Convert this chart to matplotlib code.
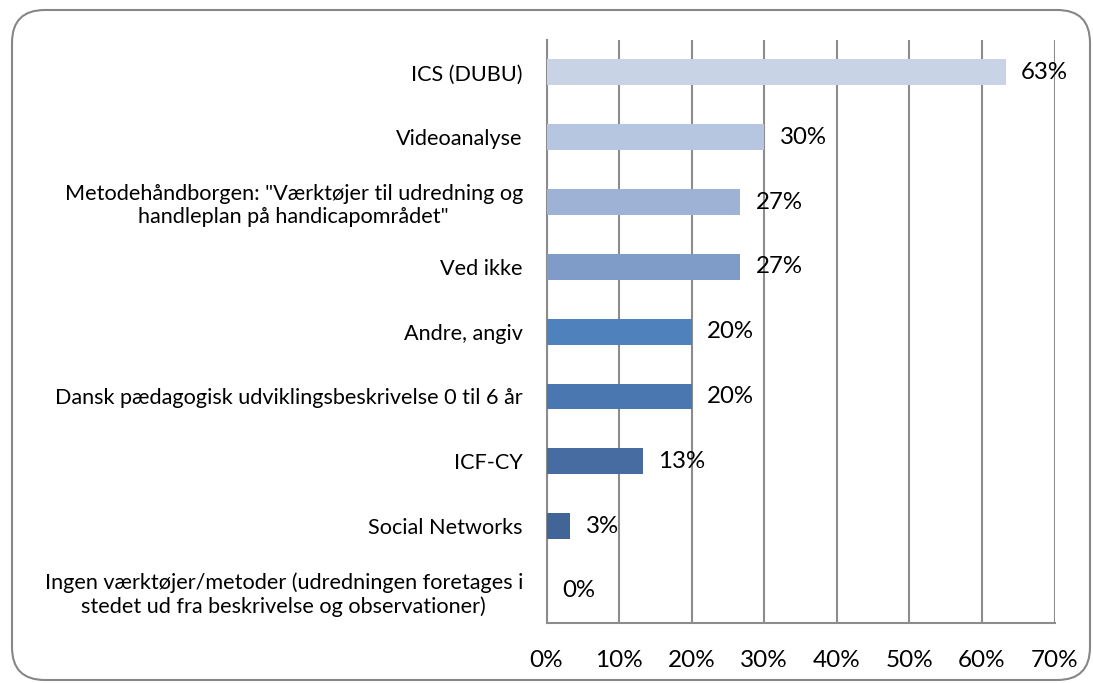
import numpy as np
import matplotlib
matplotlib.use("Agg")
import matplotlib.pyplot as plt
from matplotlib.patches import FancyBboxPatch

plt.rcParams['font.family'] = ['Lato', 'DejaVu Sans']

categories = [
    'ICS (DUBU)',
    'Videoanalyse',
    'Metodehåndborgen: "Værktøjer til udredning og\nhandleplan på handicapområdet"',
    'Ved ikke',
    'Andre, angiv',
    'Dansk pædagogisk udviklingsbeskrivelse 0 til 6 år',
    'ICF-CY',
    'Social Networks',
    'Ingen værktøjer/metoder (udredningen foretages i\nstedet ud fra beskrivelse og observationer)',
]
values = [63.3, 30.0, 26.7, 26.7, 20.0, 20.0, 13.3, 3.3, 0.0]
value_labels = ['63%', '30%', '27%', '27%', '20%', '20%', '13%', '3%', '0%']
bar_colors = ['#c9d3e6', '#b7c6e0', '#9eb2d5', '#7f9cc9', '#4f81bd',
              '#4a77b0', '#476ca1', '#416596', '#3e5f8c']
xticks = [0, 10, 20, 30, 40, 50, 60, 70]
xtick_labels = ['0%', '10%', '20%', '30%', '40%', '50%', '60%', '70%']

grid_col = '#8c8c8c'

fig = plt.figure(figsize=(10.93, 6.83), dpi=100)
ax = fig.add_axes([0.5, 0.0874, 0.4648, 0.854])

# rounded outer frame
frame = FancyBboxPatch((12 / 1093, 3 / 683), 1078 / 1093, 670 / 683,
                       boxstyle='round,pad=0,rounding_size=0.03',
                       transform=fig.transFigure, facecolor='none',
                       edgecolor='#878787', linewidth=1.5, zorder=0,
                       mutation_aspect=1093 / 683)
fig.patches.append(frame)

y = np.arange(len(categories))
ax.barh(y, values, height=0.4, color=bar_colors, zorder=3)

for yi, v, lab in zip(y, values, value_labels):
    ax.annotate(lab, (v, yi), xytext=(11, 0), textcoords='offset points',
                va='center', ha='left', fontsize=17.3, zorder=4)

ax.set_ylim(len(categories) - 0.5, -0.5)
ax.set_xlim(0, 70)
ax.set_xticks(xticks)
ax.set_xticklabels(xtick_labels, fontsize=17.5)
ax.set_yticks(y)
ax.set_yticklabels(categories, fontsize=15.6, multialignment='center')
ax.tick_params(axis='x', length=0, pad=19)
ax.tick_params(axis='y', length=0, pad=17)

ax.grid(axis='x', color=grid_col, linewidth=1.5, zorder=1)
ax.set_axisbelow(True)
for side in ['top', 'right']:
    ax.spines[side].set_visible(False)
for side in ['left', 'bottom']:
    ax.spines[side].set_color(grid_col)
    ax.spines[side].set_linewidth(1.5)
    ax.spines[side].set_zorder(2)

plt.savefig('out.png', dpi=100)
plt.close()
